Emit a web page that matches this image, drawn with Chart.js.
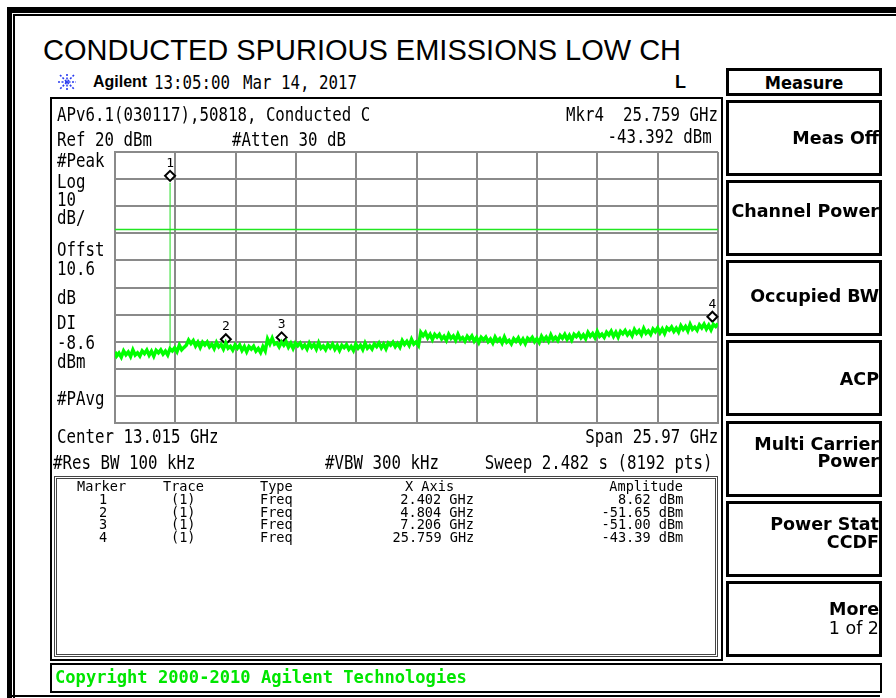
<!DOCTYPE html>
<html>
<head>
<meta charset="utf-8">
<title>Conducted Spurious Emissions Low CH</title>
<script src="https://cdn.jsdelivr.net/npm/chart.js@4.4.1/dist/chart.umd.min.js"></script>
<style>
  body { margin: 0; background: #fff; }
  #page { position: relative; width: 896px; height: 698px; overflow: hidden; background: #fff; }
  .t { position: absolute; white-space: pre; line-height: 1; color: #000; }
  .box { position: absolute; box-sizing: border-box; }
  #plotWrap { position: absolute; left: 105px; top: 142px; width: 623px; height: 291px; }
</style>
</head>
<body>
<div id="page">
  <div id="plotWrap"><canvas id="trace" width="623" height="291"></canvas></div>
</div>
<script>
// analyzer settings
const startGHz = 0.03;
const stopGHz = 26.0;
const refLevel = 20;
const dbPerDiv = 10;
const numDiv = 10;
const displayLine = -8.6;

// trace 1 (GHz / dBm)
const traceFreq = [
  0.03, 0.1, 0.2, 0.3, 0.4, 0.5, 0.6, 0.7, 0.8, 0.9,
  1.0, 1.1, 1.2, 1.3, 1.4, 1.5, 1.6, 1.7, 1.8, 1.9,
  2.0, 2.1, 2.2, 2.3, 2.4, 2.5, 2.6, 2.7, 2.8, 2.9,
  3.0, 3.1, 3.2, 3.3, 3.4, 3.5, 3.6, 3.7, 3.8, 3.9,
  4.0, 4.1, 4.2, 4.3, 4.4, 4.5, 4.6, 4.7, 4.8, 4.9,
  5.0, 5.1, 5.2, 5.3, 5.4, 5.5, 5.6, 5.7, 5.8, 5.9,
  6.0, 6.1, 6.2, 6.3, 6.4, 6.5, 6.6, 6.7, 6.8, 6.9,
  7.0, 7.1, 7.2, 7.3, 7.4, 7.5, 7.6, 7.7, 7.8, 7.9,
  8.0, 8.1, 8.2, 8.3, 8.4, 8.5, 8.6, 8.7, 8.8, 8.9,
  9.0, 9.1, 9.2, 9.3, 9.4, 9.5, 9.6, 9.7, 9.8, 9.9,
  10.0, 10.1, 10.2, 10.3, 10.4, 10.5, 10.6, 10.7, 10.8, 10.9,
  11.0, 11.1, 11.2, 11.3, 11.4, 11.5, 11.6, 11.7, 11.8, 11.9,
  12.0, 12.1, 12.2, 12.3, 12.4, 12.5, 12.6, 12.7, 12.8, 12.9,
  13.0, 13.1, 13.2, 13.3, 13.4, 13.5, 13.6, 13.7, 13.8, 13.9,
  14.0, 14.1, 14.2, 14.3, 14.4, 14.5, 14.6, 14.7, 14.8, 14.9,
  15.0, 15.1, 15.2, 15.3, 15.4, 15.5, 15.6, 15.7, 15.8, 15.9,
  16.0, 16.1, 16.2, 16.3, 16.4, 16.5, 16.6, 16.7, 16.8, 16.9,
  17.0, 17.1, 17.2, 17.3, 17.4, 17.5, 17.6, 17.7, 17.8, 17.9,
  18.0, 18.1, 18.2, 18.3, 18.4, 18.5, 18.6, 18.7, 18.8, 18.9,
  19.0, 19.1, 19.2, 19.3, 19.4, 19.5, 19.6, 19.7, 19.8, 19.9,
  20.0, 20.1, 20.2, 20.3, 20.4, 20.5, 20.6, 20.7, 20.8, 20.9,
  21.0, 21.1, 21.2, 21.3, 21.4, 21.5, 21.6, 21.7, 21.8, 21.9,
  22.0, 22.1, 22.2, 22.3, 22.4, 22.5, 22.6, 22.7, 22.8, 22.9,
  23.0, 23.1, 23.2, 23.3, 23.4, 23.5, 23.6, 23.7, 23.8, 23.9,
  24.0, 24.1, 24.2, 24.3, 24.4, 24.5, 24.6, 24.7, 24.8, 24.9,
  25.0, 25.1, 25.2, 25.3, 25.4, 25.5, 25.6, 25.7, 25.8, 25.9,
  26.0
];
const traceLevel = [
  -53.7, -55.3, -54.2, -55.7, -53.4, -54.8, -53.8, -55.4, -53.0, -54.9,
  -54.1, -55.3, -53.4, -54.4, -53.1, -55.0, -53.5, -55.3, -53.2, -54.1,
  -53.0, -54.6, -53.5, -54.9, -52.6, -53.4, -52.3, -53.7, -51.3, -53.0,
  -52.1, -51.3, -49.4, -50.7, -49.6, -51.6, -50.2, -52.1, -50.2, -51.2,
  -50.1, -51.9, -50.9, -52.5, -50.3, -51.9, -51.0, -52.7, -50.5, -52.4,
  -51.7, -53.1, -51.2, -52.4, -51.2, -53.2, -51.8, -53.7, -51.8, -52.7,
  -51.7, -53.5, -52.5, -54.0, -51.8, -53.4, -49.0, -50.8, -48.7, -50.9,
  -50.4, -51.9, -50.1, -51.3, -50.0, -52.0, -50.6, -52.5, -50.5, -51.5,
  -50.5, -52.2, -51.2, -52.7, -50.5, -52.0, -51.0, -52.7, -50.4, -52.4,
  -51.6, -52.9, -51.0, -52.2, -50.9, -52.8, -51.4, -53.2, -51.3, -52.2,
  -51.1, -52.8, -51.7, -53.2, -50.9, -52.4, -51.3, -52.9, -50.5, -52.4,
  -51.5, -52.7, -50.8, -51.8, -50.5, -52.3, -50.9, -52.6, -50.5, -51.3,
  -50.2, -51.8, -50.6, -52.0, -49.6, -51.0, -49.9, -51.4, -49.1, -50.9,
  -50.1, -51.4, -46.6, -47.8, -46.6, -48.6, -47.3, -49.2, -47.3, -48.3,
  -47.3, -49.0, -48.0, -49.5, -47.3, -48.8, -47.9, -49.5, -47.3, -49.2,
  -48.5, -49.8, -48.0, -49.1, -47.9, -49.8, -48.5, -50.3, -48.4, -49.3,
  -48.3, -50.0, -49.0, -50.5, -48.3, -49.8, -48.9, -50.5, -48.3, -50.2,
  -49.5, -50.8, -48.9, -49.9, -48.6, -50.4, -49.0, -50.7, -48.7, -49.5,
  -48.4, -50.0, -48.9, -50.3, -48.0, -49.4, -48.3, -49.8, -47.5, -49.3,
  -48.4, -49.6, -47.7, -48.7, -47.3, -49.1, -47.7, -49.4, -47.3, -48.1,
  -47.0, -48.6, -47.5, -48.9, -46.6, -48.0, -47.0, -48.5, -46.2, -48.0,
  -47.2, -48.4, -46.5, -47.5, -46.1, -48.0, -46.5, -48.3, -46.2, -47.1,
  -45.9, -47.5, -46.4, -47.8, -45.5, -46.9, -45.9, -47.4, -45.1, -46.9,
  -46.0, -47.3, -45.3, -46.3, -44.9, -46.7, -45.3, -47.0, -44.9, -45.7,
  -44.6, -46.2, -45.0, -46.4, -44.1, -45.5, -44.4, -46.0, -43.6, -45.4,
  -44.6, -45.8, -43.8, -44.9, -43.5, -45.3, -43.9, -45.6, -43.6, -44.4,
  -43.3
];

// markers
const markerName = ['1', '2', '3', '4'];
const markerFreq = [2.402, 4.804, 7.206, 25.759];
const markerLevel = [8.62, -51.65, -51.00, -43.39];
const spikeFloor = -53.6;

const page = document.getElementById('page');

function addText(str, x, capTop, o) {
    const d = document.createElement('div');
    d.className = 't';
    d.textContent = str;
    d.style.fontFamily = o.font;
    d.style.fontSize = o.size + 'px';
    d.style.fontWeight = o.bold ? 'bold' : 'normal';
    d.style.top = (capTop - (o.k || 0.117) * o.size) + 'px';
    if (o.color) d.style.color = o.color;
    if (o.align === 'right') {
        d.style.right = (896 - x) + 'px';
        d.style.transformOrigin = 'right top';
    } else if (o.align === 'center') {
        d.style.left = (x - 150) + 'px';
        d.style.width = '300px';
        d.style.textAlign = 'center';
        d.style.transformOrigin = 'center top';
    } else {
        d.style.left = x + 'px';
        d.style.transformOrigin = 'left top';
    }
    d.style.transform = o.sx ? 'scaleX(' + o.sx + ')' : '';
    page.appendChild(d);
    return d;
}

function addBox(x, y, w, h, border) {
    const b = document.createElement('div');
    b.className = 'box';
    b.style.left = x + 'px';
    b.style.top = y + 'px';
    b.style.width = w + 'px';
    b.style.height = h + 'px';
    if (border) b.style.border = border;
    page.appendChild(b);
    return b;
}

function addRect(x, y, w, h, color) {
    const r = addBox(x, y, w, h);
    r.style.background = color;
    return r;
}

const MONO = '"DejaVu Sans Mono", monospace';
const SANS = '"DejaVu Sans", sans-serif';
const ARIAL = '"Liberation Sans", Arial, sans-serif';
const scr = { font: MONO, size: 19, sx: 0.83 };
const scrR = Object.assign({ align: 'right' }, scr);
const tbl = { font: MONO, size: 14, sx: 0.97 };
const tblR = Object.assign({ align: 'right' }, tbl);
const key = { font: SANS, size: 17.5, bold: true, align: 'right' };

// outer frame
addRect(7, 7, 889, 6, '#000');
addRect(7, 7, 5, 691, '#000');
addRect(13, 14, 883, 2, '#000');
addRect(13, 14, 2, 684, '#000');
addRect(7, 695, 873, 2, '#000');

// title
addText('CONDUCTED SPURIOUS EMISSIONS LOW CH', 43, 40, { font: ARIAL, size: 29, k: 0.13 });

// agilent logo
const logo = document.createElementNS('http://www.w3.org/2000/svg', 'svg');
logo.setAttribute('width', '20');
logo.setAttribute('height', '18');
logo.style.position = 'absolute';
logo.style.left = '57px';
logo.style.top = '73px';
logo.innerHTML = '<g stroke="#2a3cf0" stroke-width="1.6" stroke-dasharray="2 1.5">' +
    '<line x1="10" y1="1" x2="10" y2="17"/><line x1="1" y1="9" x2="19" y2="9"/>' +
    '<line x1="3" y1="2" x2="17" y2="16"/><line x1="17" y1="2" x2="3" y2="16"/></g>';
page.appendChild(logo);

addText('Agilent', 93, 75, { font: ARIAL, size: 17, bold: true, k: 0.13, sx: 0.94 });
addText('13:05:00', 154, 75, scr);
addText('Mar 14, 2017', 243, 75, scr);
addText('L', 675, 75, { font: ARIAL, size: 18, bold: true, k: 0.13 });

// screen panel
addBox(50, 97, 673, 564, '2px solid #000');
addText('APv6.1(030117),50818, Conducted C', 57, 107, scr);
addText('Mkr4  25.759 GHz', 718, 107, scrR);
addText('-43.392 dBm', 712, 129, scrR);
addText('Ref 20 dBm', 57, 132, scr);
addText('#Atten 30 dB', 232, 132, scr);

const sideLabels = [['#Peak', 153], ['Log', 174], ['10', 192], ['dB/', 210], ['Offst', 242],
    ['10.6', 261], ['dB', 290], ['DI', 315], ['-8.6', 335], ['dBm', 354], ['#PAvg', 391]];
sideLabels.forEach(s => addText(s[0], 57, s[1], scr));

addText('Center 13.015 GHz', 57, 429, scr);
addText('Span 25.97 GHz', 718, 429, scrR);
addText('#Res BW 100 kHz', 53, 455, scr);
addText('#VBW 300 kHz', 325, 455, scr);
addText('Sweep 2.482 s (8192 pts)', 713, 455, scrR);

// marker table
addBox(54, 476, 664, 181, '3px double #444');
addText('Marker', 77, 481, tbl);
addText('Trace', 163, 481, tbl);
addText('Type', 260, 481, tbl);
addText('X Axis', 405, 481, tbl);
addText('Amplitude', 683, 481, tblR);
markerName.forEach((m, i) => {
    const y = 494 + i * 12.5;
    addText(m, 99, y, tbl);
    addText('(1)', 171, y, tbl);
    addText('Freq', 260, y, tbl);
    addText(markerFreq[i].toFixed(3) + ' GHz', 474, y, tblR);
    addText(markerLevel[i].toFixed(2) + ' dBm', 683, y, tblR);
});

// copyright bar
addBox(50, 663, 832, 30, '2px solid #000');
addText('Copyright 2000-2010 Agilent Technologies', 55, 670, { font: MONO, size: 18, bold: true, sx: 0.95, color: '#00e600' });

// softkeys
addBox(726, 68, 156, 28, '3px solid #000');
addText('Measure', 804, 77, { font: SANS, size: 17.5, bold: true, align: 'center', sx: 0.93 });
const softkeys = [
    [100, [['Meas Off', 132, true]]],
    [180, [['Channel Power', 205, true]]],
    [260, [['Occupied BW', 290, true]]],
    [340, [['ACP', 373, true]]],
    [421, [['Multi Carrier', 438, true], ['Power', 455, true]]],
    [501, [['Power Stat', 518, true], ['CCDF', 536, true]]],
    [581, [['More', 603, true], ['1 of 2', 622, false]]]
];
softkeys.forEach(k => {
    addBox(726, k[0], 156, 76, '3px solid #000');
    k[1].forEach(l => addText(l[0], 879, l[1], Object.assign({}, key, { bold: l[2] })));
});

// marker diamonds, drawn under the trace
const markerPlugin = {
    id: 'markers',
    beforeDatasetsDraw(chart) {
        const ctx = chart.ctx;
        const xs = chart.scales.x;
        const ys = chart.scales.y;
        ctx.save();
        markerFreq.forEach((f, i) => {
            const px = xs.getPixelForValue(f);
            const py = ys.getPixelForValue(markerLevel[i]) - 7;
            ctx.beginPath();
            ctx.moveTo(px, py - 5);
            ctx.lineTo(px + 5, py);
            ctx.lineTo(px, py + 5);
            ctx.lineTo(px - 5, py);
            ctx.closePath();
            ctx.fillStyle = '#fff';
            ctx.fill();
            ctx.lineWidth = 2;
            ctx.strokeStyle = '#000';
            ctx.stroke();
            ctx.fillStyle = '#000';
            ctx.font = '13px "DejaVu Sans Mono"';
            ctx.textAlign = 'center';
            ctx.fillText(markerName[i], px, py - 9);
        });
        ctx.restore();
    }
};

const gridOpts = { color: '#8a8a8a', lineWidth: 2, drawTicks: false };
const borderOpts = { color: '#8a8a8a', width: 2 };

new Chart(document.getElementById('trace'), {
    type: 'line',
    data: {
        datasets: [
            {
                label: 'Trace 1',
                data: traceFreq.map((f, i) => ({ x: f, y: traceLevel[i] })),
                borderColor: '#00ff00',
                borderWidth: 3.5,
                pointRadius: 0
            },
            {
                label: 'Mkr1',
                data: [{ x: markerFreq[0], y: spikeFloor }, { x: markerFreq[0], y: markerLevel[0] }],
                borderColor: '#22dd22',
                borderWidth: 1,
                pointRadius: 0
            },
            {
                label: 'DL',
                data: [{ x: startGHz, y: displayLine }, { x: stopGHz, y: displayLine }],
                borderColor: '#22e622',
                borderWidth: 1.5,
                pointRadius: 0
            }
        ]
    },
    options: {
        responsive: false,
        animation: false,
        layout: { padding: 10 },
        plugins: { legend: { display: false }, tooltip: { enabled: false } },
        scales: {
            x: {
                type: 'linear',
                min: startGHz,
                max: stopGHz,
                ticks: { display: false, stepSize: (stopGHz - startGHz) / numDiv },
                grid: gridOpts,
                border: borderOpts
            },
            y: {
                type: 'linear',
                min: refLevel - dbPerDiv * numDiv,
                max: refLevel,
                ticks: { display: false, stepSize: dbPerDiv },
                grid: gridOpts,
                border: borderOpts
            }
        }
    },
    plugins: [markerPlugin]
});
</script>
</body>
</html>
